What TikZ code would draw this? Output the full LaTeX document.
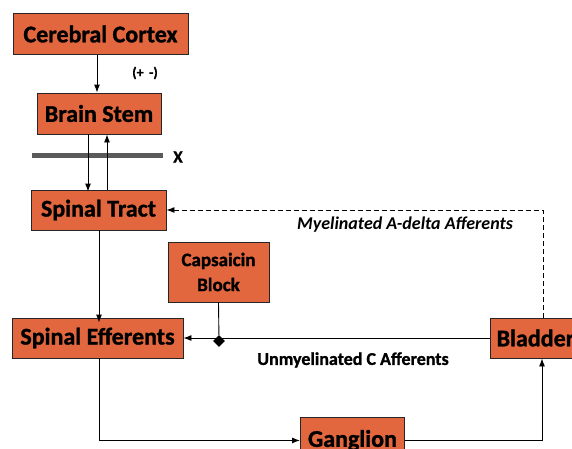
\documentclass[tikz,border=0pt]{standalone}
\usepackage{fontspec}
\setmainfont{Carlito}[BoldFeatures={FakeBold=1.2}]
\usepackage{xcolor}
\usetikzlibrary{arrows.meta, shapes.geometric}

\definecolor{boxorange}{RGB}{226,102,62}
\definecolor{bargray}{RGB}{90,90,90}

\tikzset{
  organ/.style={draw=black!85, fill=boxorange, line width=0.9pt, inner sep=0pt,
    font=\fontsize{24}{26}\selectfont\bfseries},
  flow/.style={line width=0.9pt, -{Latex[length=8pt,width=6pt]}},
  lbl/.style={font=\fontsize{18}{20}\selectfont\bfseries},
}

\begin{document}
\begin{tikzpicture}[x=1pt, y=-1pt]
\useasboundingbox (0,0) rectangle (572,448);
\clip (0,0) rectangle (572,448);
% boxes
\node[organ, minimum width=175pt, minimum height=41pt] (cortex) at (100.5,34) {Cerebral Cortex};
\node[organ, minimum width=124pt, minimum height=41pt] (stem) at (99,113.5) {Brain Stem};
\node[organ, minimum width=135pt, minimum height=40pt] (tract) at (98.5,210) {Spinal Tract};
\node[organ, minimum width=101pt, minimum height=60pt, align=center,
  font=\fontsize{19}{25}\selectfont\bfseries] (caps) at (218.5,272) {Capsaicin\\Block};
\node[organ, minimum width=171pt, minimum height=40pt] (eff) at (97.5,338) {Spinal Efferents};
\node[organ, minimum width=100pt, minimum height=40pt, anchor=west] (bladder) at (490,338) {\hspace*{-10pt}Bladder};
\node[organ, minimum width=104pt, minimum height=46pt, anchor=north west] (gang) at (300,417) {Ganglion};
% junction
\node[diamond, fill=black, inner sep=0pt, minimum size=12pt] (dia) at (219,341) {};
% cut line
\draw[bargray, line width=5pt] (32,155) -- (163,155);
\node[font=\fontsize{17}{19}\selectfont\bfseries] (cut) at (178,157) {X};
\node[font=\fontsize{14}{16}\selectfont\bfseries] (sign) at (145,73) {(+\,\ -)};
% connectors
\draw[flow] (cortex.south -| 97,0) -- (stem.north -| 97,0);
\draw[flow] (stem.south -| 88,0) -- ([yshift=-2pt]tract.north -| 88,0);
\draw[flow] (tract.north -| 107,0) -- (stem.south -| 107,0);
\draw[flow] (tract.south -| 99,0) -- ([yshift=-5pt]eff.north -| 99,0);
\draw[flow, dash pattern=on 5pt off 3pt] (bladder.north -| 543,0) |- (tract.east);
\draw[line width=0.9pt] (caps.south) -- (dia);
\draw[flow] (bladder.west) -- (eff.east);
\draw[flow] (eff.south -| 99,0) |- (gang.west);
\draw[flow] (gang.east) -| (bladder.south -| 542,0);
% labels
\node[lbl, font=\fontsize{18}{20}\selectfont\bfseries\itshape] (myel) at (405,225) {Myelinated A-delta Afferents};
\node[lbl] (unmyel) at (353,360) {Unmyelinated C Afferents};
\end{tikzpicture}
\end{document}
